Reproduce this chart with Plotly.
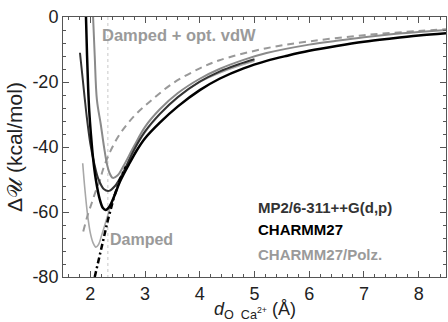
import plotly.graph_objects as go

# CHARMM27 (black)
c27_x = [1.92, 1.94, 1.96, 1.98, 2.01, 2.05, 2.10, 2.17, 2.23, 2.28, 2.35, 2.44, 2.54, 2.70, 2.85, 3.00, 3.27, 3.60, 4.00, 4.36, 4.80, 5.22, 5.60, 6.00, 6.50, 7.00, 7.50, 8.00, 8.50]
c27_y = [0.0, -12.0, -22.0, -29.0, -36.0, -43.5, -50.0, -56.0, -58.8, -59.4, -58.3, -55.0, -50.7, -45.5, -41.0, -37.3, -32.5, -27.5, -22.5, -19.0, -15.8, -13.5, -11.9, -10.4, -8.9, -7.6, -6.6, -5.7, -5.0]

# MP2/6-311++G(d,p) (dark grey, stops at ~5 A)
mp2_x = [1.81, 1.86, 1.90, 1.94, 2.00, 2.07, 2.15, 2.25, 2.34, 2.45, 2.60, 2.80, 3.00, 3.27, 3.60, 4.00, 4.36, 4.70, 5.00]
mp2_y = [-11.0, -19.0, -25.5, -31.5, -39.0, -45.0, -50.0, -53.0, -53.5, -52.0, -47.8, -40.8, -35.2, -29.8, -24.6, -19.9, -16.8, -14.6, -13.0]

# CHARMM27/Polz. (grey)
pol_x = [2.05, 2.08, 2.12, 2.19, 2.25, 2.30, 2.35, 2.41, 2.50, 2.60, 2.80, 3.00, 3.27, 3.60, 4.00, 4.36, 4.80, 5.22, 6.00, 6.50, 7.00, 7.50, 8.00, 8.50]
pol_y = [0.0, -12.0, -25.5, -33.0, -40.0, -45.0, -48.0, -49.5, -48.7, -46.0, -39.7, -33.8, -28.4, -23.4, -19.0, -16.0, -13.2, -11.1, -8.5, -7.3, -6.2, -5.3, -4.6, -4.0]

# Damped (light grey)
dmp_x = [1.86, 1.90, 1.95, 2.00, 2.05, 2.10, 2.15, 2.20, 2.30, 2.40, 2.50, 2.60, 2.80, 3.00, 3.27, 3.60, 4.00, 4.50, 5.00]
dmp_y = [-45.0, -53.0, -61.0, -66.5, -69.5, -70.8, -70.0, -67.5, -62.0, -56.5, -52.0, -48.0, -41.0, -35.5, -30.0, -24.8, -20.0, -16.3, -13.5]

# Damped + opt. vdW (grey dashed)
vdw_x = [1.87, 1.95, 2.03, 2.10, 2.18, 2.23, 2.36, 2.54, 2.80, 3.09, 3.50, 4.00, 4.36, 5.22, 6.00, 7.00, 8.00, 8.50]
vdw_y = [-66.0, -61.0, -57.0, -53.5, -50.0, -47.0, -41.5, -36.0, -30.5, -26.0, -20.5, -15.8, -13.3, -9.6, -7.5, -5.6, -4.3, -3.8]

# Dash-dot asymptote (black)
asy_x = [2.08, 2.20, 2.32, 2.43, 2.54, 2.65]
asy_y = [-80.0, -71.0, -62.5, -55.5, -50.0, -46.0]

ref_x = 2.32

x_ticks = [2, 3, 4, 5, 6, 7, 8]
y_ticks = [0, -20, -40, -60, -80]
y_ticktext = ["0", "-20", "-40", "-60", "-80"]

fig = go.Figure()

fig.add_trace(go.Scatter(x=[ref_x, ref_x], y=[0, -80], mode="lines",
                         line=dict(color="#c8c8c8", width=1, dash="dot"), hoverinfo="skip"))
fig.add_trace(go.Scatter(x=dmp_x, y=dmp_y, mode="lines", line=dict(color="#a8a8a8", width=1.6, shape="spline")))
fig.add_trace(go.Scatter(x=vdw_x, y=vdw_y, mode="lines", line=dict(color="#999999", width=2, dash="7px,5px", shape="spline")))
fig.add_trace(go.Scatter(x=pol_x, y=pol_y, mode="lines", line=dict(color="#8a8a8a", width=2, shape="spline")))
fig.add_trace(go.Scatter(x=mp2_x, y=mp2_y, mode="lines", line=dict(color="#333333", width=2, shape="spline")))
fig.add_trace(go.Scatter(x=c27_x, y=c27_y, mode="lines", line=dict(color="#000000", width=2.5, shape="spline")))
fig.add_trace(go.Scatter(x=asy_x, y=asy_y, mode="lines", line=dict(color="#000000", width=2.5, dash="6px,3px,2px,3px")))

font = "Liberation Sans, Arial, Helvetica, sans-serif"

fig.update_layout(
    width=448, height=322,
    margin=dict(l=63, r=2, t=17, b=45),
    paper_bgcolor="white", plot_bgcolor="white",
    showlegend=False,
    font=dict(family=font, size=18, color="#222222"),
    xaxis=dict(range=[1.5, 8.5], tickvals=x_ticks, ticks="inside", ticklen=6, tickcolor="#555",
               showline=True, linecolor="#555", linewidth=1, mirror="allticks", showgrid=False, zeroline=False,
               minor=dict(dtick=0.2, ticks="inside", ticklen=3, tickcolor="#555", showgrid=False),
               tickfont=dict(size=18, color="#222")),
    yaxis=dict(range=[-80, 0], tickvals=y_ticks, ticktext=y_ticktext, ticks="inside", ticklen=6, tickcolor="#555",
               showline=True, linecolor="#555", linewidth=1, mirror="allticks", showgrid=False, zeroline=False,
               minor=dict(dtick=4, ticks="inside", ticklen=3, tickcolor="#555", showgrid=False),
               tickfont=dict(size=18, color="#222")),
)

fig.add_annotation(text="Δ𝒰 (kcal/mol)", xref="paper", yref="paper", x=-0.128, y=0.5,
                   textangle=-90, showarrow=False, font=dict(size=21, color="#222"), xanchor="center", yanchor="middle")
fig.add_annotation(text="<i>d</i><sub>O  Ca<sup>2+</sup></sub> (Å)", xref="paper", yref="paper", x=0.5, y=-0.13,
                   showarrow=False, font=dict(size=18, color="#222"), xanchor="center", yanchor="middle")

fig.add_annotation(text="<b>Damped + opt. vdW</b>", xref="x", yref="y", x=2.17, y=-5.6,
                   showarrow=False, xanchor="left", yanchor="middle", font=dict(size=16.5, color="#9a9a9a"))
fig.add_annotation(text="<b>Damped</b>", xref="x", yref="y", x=2.33, y=-68.6,
                   showarrow=False, xanchor="left", yanchor="middle", font=dict(size=16, color="#9a9a9a"))
fig.add_annotation(text="<b>MP2/6-311++G(d,p)</b>", xref="x", yref="y", x=5.02, y=-58.5,
                   showarrow=False, xanchor="left", yanchor="middle", font=dict(size=15, color="#333333"))
fig.add_annotation(text="<b>CHARMM27</b>", xref="x", yref="y", x=5.02, y=-65.5,
                   showarrow=False, xanchor="left", yanchor="middle", font=dict(size=15, color="#000000"))
fig.add_annotation(text="<b>CHARMM27/Polz.</b>", xref="x", yref="y", x=5.02, y=-73.2,
                   showarrow=False, xanchor="left", yanchor="middle", font=dict(size=15, color="#9a9a9a"))

fig.write_html("out.html")
